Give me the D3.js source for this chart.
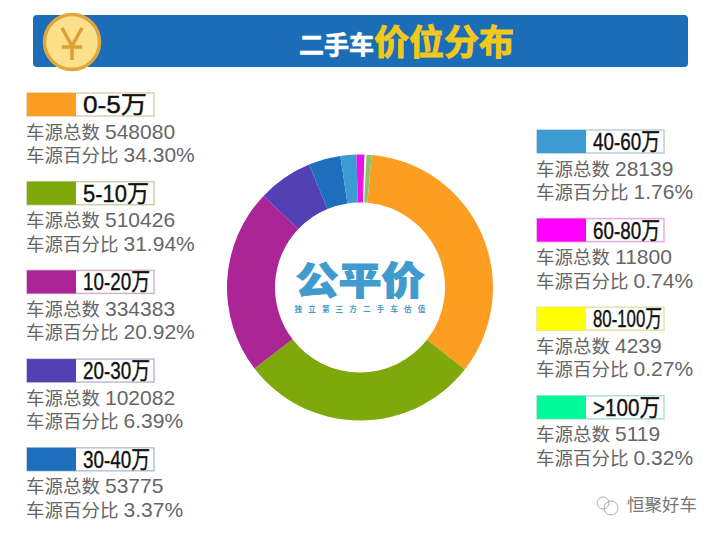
<!DOCTYPE html>
<html>
<head>
<meta charset="utf-8">
<script src="https://cdn.jsdelivr.net/npm/d3@7"></script>
<style>
  html, body { margin: 0; padding: 0; background: #fff; }
  svg { display: block; }
  text { font-family: "Liberation Sans", "Noto Sans CJK SC", sans-serif; }
</style>
</head>
<body>
<svg id="chart" width="720" height="536"></svg>
<script>
let ranges = ["0-5万", "5-10万", "10-20万", "20-30万", "30-40万", "40-60万", "60-80万", "80-100万", ">100万"]
let totals = [548080, 510426, 334383, 102082, 53775, 28139, 11800, 4239, 5119]
let percents = ["34.30%", "31.94%", "20.92%", "6.39%", "3.37%", "1.76%", "0.74%", "0.27%", "0.32%"]
// the ring in the picture is not drawn to the printed numbers, so slices use their own shares (read in degrees)
let sliceDegrees = [123, 104.5, 81, 24, 14, 7, 3.5, 0.8, 2.2]
let colors = ["#fc9e21", "#7fa80a", "#ac2596", "#5240b4", "#1d6fbb", "#3c9bd2", "#ff00ff", "#ffff00", "#00fa9a"]
// last two slices are so thin they wash out in the picture
let sliceColors = ["#fc9e21", "#7fa80a", "#ac2596", "#5240b4", "#1d6fbb", "#3c9bd2", "#f010e8", "#fdfde0", "#8cc46e"]
let labelWidths = [64, 66, 67, 67, 67, 67, 67, 69, 67]

let svg = d3.select("#chart")
let cjk = "'Noto Sans CJK SC'"

// banner
svg.append("rect").attr("x", 33).attr("y", 15).attr("width", 655).attr("height", 52).attr("rx", 4).attr("fill", "#1a6db6")
svg.append("circle").attr("cx", 72).attr("cy", 42).attr("r", 27.5).attr("fill", "#fde08a").attr("stroke", "#e3a63e").attr("stroke-width", 3.5)
let yen = d3.path()
yen.moveTo(62, 28); yen.lineTo(72, 46); yen.lineTo(82, 28)
yen.moveTo(72, 46); yen.lineTo(72, 60)
yen.moveTo(62, 47); yen.lineTo(82, 47)
svg.append("path").attr("d", yen.toString()).attr("fill", "none").attr("stroke", "#dc9f33").attr("stroke-width", 3.5)

svg.append("text").attr("x", 299).attr("y", 54).attr("font-size", 25).attr("font-weight", 700).attr("fill", "#fff")
  .attr("stroke", "#fff").attr("stroke-width", 0.6).style("font-family", cjk).text("二手车")
svg.append("text").attr("x", 374).attr("y", 55).attr("font-size", 35).attr("font-weight", 700).attr("fill", "#f2c81e")
  .attr("stroke", "#f2c81e").attr("stroke-width", 1).style("font-family", cjk).text("价位分布")

// ring
let pie = d3.pie().sort(null).value(d => d).startAngle(5 * Math.PI / 180).endAngle(365 * Math.PI / 180)
let arc = d3.arc().innerRadius(85).outerRadius(133)
let ring = svg.append("g").attr("transform", "translate(360,287.5)")
ring.selectAll("path").data(pie(sliceDegrees)).join("path").attr("d", arc).attr("fill", (d, i) => sliceColors[i])

// logo in the middle
ring.append("text").attr("transform", "translate(0,6.5) scale(1,0.88)").attr("text-anchor", "middle").attr("font-size", 43).attr("font-weight", 900)
  .attr("fill", "#3f9bcd").attr("stroke", "#3f9bcd").attr("stroke-width", 1.2).style("font-family", cjk).text("公平价")
ring.append("text").attr("x", 3).attr("y", 24).attr("text-anchor", "middle").attr("font-size", 7.5).attr("font-weight", 700).attr("letter-spacing", 6.2).attr("fill", "#3f9bcd")
  .style("font-family", cjk).text("独立第三方二手车估值")

// legend blocks, five on the left and four on the right
function legendBlock(i) {
  let left = i < 5
  let x = left ? 27 : 537
  let top = left ? 93 + i * 88.7 : 130 + (i - 5) * 88.6
  let g = svg.append("g").attr("transform", `translate(${x},${top})`)
  g.append("rect").attr("width", 127).attr("height", 23).attr("fill", "#fff")
    .attr("stroke", d3.interpolateRgb(colors[i], "#aaa")(0.6)).attr("stroke-opacity", 0.55).attr("stroke-width", 1.5)
  g.append("rect").attr("width", 49).attr("height", 23).attr("fill", colors[i])
  g.append("text").attr("x", 56).attr("y", 20).attr("font-size", 24).attr("fill", "#111").attr("stroke", "#111").attr("stroke-width", 0.4)
    .attr("textLength", labelWidths[i]).attr("lengthAdjust", "spacingAndGlyphs").text(ranges[i])

  let line1 = g.append("text").attr("x", -1).attr("y", 45.5).attr("font-size", 18.5).attr("fill", "#666")
  line1.append("tspan").text("车源总数")
  line1.append("tspan").attr("dx", 5).attr("font-size", 21).text(totals[i])
  let line2 = g.append("text").attr("x", -1).attr("y", 69).attr("font-size", 18.5).attr("fill", "#666")
  line2.append("tspan").text("车源百分比")
  line2.append("tspan").attr("dx", 5).attr("font-size", 21).text(percents[i])
}
ranges.forEach((r, i) => legendBlock(i))

// watermark
let mark = svg.append("g").attr("transform", "translate(607,505)").attr("fill", "none").attr("stroke", "#aaa").attr("stroke-width", 1)
mark.append("circle").attr("cx", -4).attr("cy", -2).attr("r", 6)
mark.append("circle").attr("cx", 4).attr("cy", 3).attr("r", 7)
svg.append("text").attr("x", 627).attr("y", 511).attr("font-size", 17.5).attr("fill", "#777").text("恒聚好车")
</script>
</body>
</html>
